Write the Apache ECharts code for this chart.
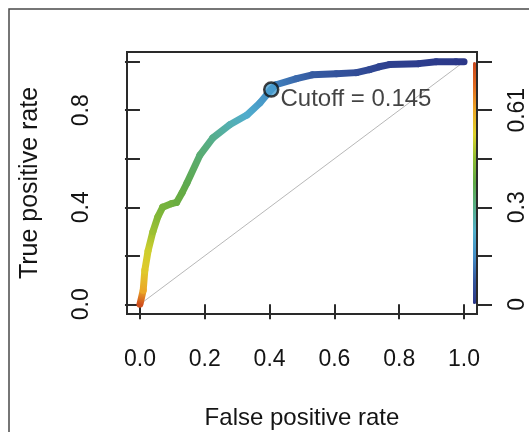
<!DOCTYPE html>
<html>
<head>
<meta charset="utf-8">
<script src="https://cdn.jsdelivr.net/npm/echarts@6/dist/echarts.min.js"></script>
<style>
  html, body { margin: 0; padding: 0; background: #fff; }
  #chart { width: 529px; height: 432px; }
</style>
</head>
<body>
<div id="chart"></div>
<script>
// ROC curve points
var fpr = [0, 0.01, 0.015, 0.025, 0.04, 0.055, 0.07, 0.098, 0.113, 0.13, 0.145, 0.185, 0.225, 0.277, 0.33, 0.37, 0.405, 0.42, 0.483, 0.532, 0.606, 0.668, 0.708, 0.738, 0.77, 0.86, 0.914, 0.975, 1.0];
var tpr = [0, 0.058, 0.14, 0.22, 0.30, 0.36, 0.40, 0.415, 0.42, 0.46, 0.50, 0.615, 0.686, 0.74, 0.78, 0.83, 0.885, 0.905, 0.93, 0.946, 0.95, 0.955, 0.967, 0.979, 0.988, 0.992, 1.0, 1.0, 1.0];
// cutoff at each point, estimated from the curve colour
var cutoff = [0.74, 0.61, 0.55, 0.52, 0.47, 0.44, 0.42, 0.41, 0.4, 0.39, 0.37, 0.33, 0.3, 0.26, 0.22, 0.18, 0.145, 0.13, 0.1, 0.08, 0.065, 0.05, 0.04, 0.03, 0.02, 0.015, 0.01, 0.005, 0];

var cutoffMax = 0.7625;
var bestPoint = [0.405, 0.885];
var bestCutoff = 0.145;

var xTicks = [0, 0.2, 0.4, 0.6, 0.8, 1.0];
var yTicks = [0, 0.2, 0.4, 0.6, 0.8, 1.0];
var yLabelTicks = [0, 0.4, 0.8];
var rightLabels = ['0', '0.3', '0.61'];

var chanceLine = [[0, 0], [1, 1]];

var palette = ['#2b3788', '#35589f', '#4490c8', '#52b0cc', '#56ae88', '#5fa946', '#8fbd33', '#dcd22c', '#eba826', '#e06a20', '#c8451d'];

var font = 'Liberation Sans, Arial, Helvetica, sans-serif';
var ink = '#141414';

// one item per segment: [x1, y1, x2, y2, cutoff1, cutoff2]
var segments = [];
for (var i = 0; i < fpr.length - 1; i++) {
    segments.push([fpr[i], tpr[i], fpr[i + 1], tpr[i + 1], cutoff[i], cutoff[i + 1]]);
}

function cutColor(c) {
    return echarts.color.lerp(Math.max(0, Math.min(1, c / cutoffMax)), palette);
}

function renderSegment(params, api) {
    var p1 = api.coord([api.value(0), api.value(1)]);
    var p2 = api.coord([api.value(2), api.value(3)]);
    var c1 = cutColor(api.value(4));
    var c2 = cutColor(api.value(5));
    var grad = new echarts.graphic.LinearGradient(p1[0], p1[1], p2[0], p2[1], [
        { offset: 0, color: c1 }, { offset: 1, color: c2 }
    ], true);
    if (p1[0] === p2[0] && p1[1] === p2[1]) grad = c1;
    return {
        type: 'line',
        shape: { x1: p1[0], y1: p1[1], x2: p2[0], y2: p2[1] },
        style: { stroke: grad, lineWidth: 7, lineCap: 'round' }
    };
}

var chart = echarts.init(document.getElementById('chart'));

chart.setOption({
    animation: false,
    backgroundColor: '#fff',
    textStyle: { fontFamily: font },
    grid: {
        left: 127, top: 52, width: 350, height: 262,
        outerBoundsMode: 'none', containLabel: false,
        show: true, borderColor: '#2a2a2a', borderWidth: 2,
        backgroundColor: 'transparent'
    },
    xAxis: {
        type: 'value', min: -0.04, max: 1.04,
        axisLine: { show: false },
        splitLine: { show: false },
        axisTick: { customValues: xTicks, length: 15, lineStyle: { color: '#2a2a2a', width: 2 } },
        axisLabel: {
            customValues: xTicks, margin: 34, fontSize: 23, color: ink, fontFamily: font,
            formatter: function (v) { return v.toFixed(1); }
        },
        name: 'False positive rate', nameLocation: 'middle', nameGap: 92,
        nameTextStyle: { fontSize: 24, color: ink, fontFamily: font }
    },
    yAxis: [{
        type: 'value', min: -0.04, max: 1.04, position: 'left',
        axisLine: { show: false },
        splitLine: { show: false },
        axisTick: { customValues: yTicks, length: 15, lineStyle: { color: '#2a2a2a', width: 2 } },
        axisLabel: {
            customValues: yLabelTicks, rotate: 90, margin: 34, fontSize: 23, color: ink, fontFamily: font,
            formatter: function (v) { return v.toFixed(1); }
        },
        name: 'True positive rate', nameLocation: 'middle', nameGap: 84, nameRotate: 90,
        nameTextStyle: { fontSize: 25, color: ink, fontFamily: font }
    }, {
        type: 'value', min: -0.04, max: 1.04, position: 'right',
        axisLine: { show: false },
        splitLine: { show: false },
        axisTick: { customValues: yTicks, length: 15, lineStyle: { color: '#2a2a2a', width: 2 } },
        axisLabel: {
            customValues: yLabelTicks, rotate: 90, margin: 29, fontSize: 23, color: ink, fontFamily: font,
            formatter: function (v) {
                var i = yLabelTicks.indexOf(Math.round(v * 10) / 10);
                return i >= 0 ? rightLabels[i] : '';
            }
        }
    }],
    // colour key drawn along the right edge of the box
    visualMap: {
        type: 'continuous',
        seriesIndex: [],
        min: 0, max: cutoffMax,
        orient: 'vertical',
        left: 473, top: 62, padding: 0,
        itemWidth: 3, itemHeight: 242,
        text: null, showLabel: false, calculable: false, hoverLink: false,
        inRange: { color: palette }
    },
    graphic: [{
        type: 'rect', silent: true,
        shape: { x: 9, y: 9, width: 700, height: 700 },
        style: { fill: 'none', stroke: '#4a4a4a', lineWidth: 1.5 }
    }],
    series: [{
        type: 'line',
        data: chanceLine,
        symbol: 'none',
        lineStyle: { color: '#b8b8b8', width: 1 },
        silent: true, z: 1
    }, {
        type: 'custom',
        data: segments,
        renderItem: renderSegment,
        encode: { x: [0, 2], y: [1, 3] },
        silent: true, z: 2
    }, {
        type: 'scatter',
        data: [bestPoint],
        symbol: 'circle', symbolSize: 14,
        itemStyle: { color: '#4a9fd0', borderColor: '#111', borderWidth: 2.5 },
        label: {
            show: true, position: 'right', distance: 1, offset: [0, 10],
            formatter: 'Cutoff = ' + bestCutoff,
            fontSize: 24, color: ink, fontFamily: font
        },
        silent: true, z: 3
    }]
});
</script>
</body>
</html>
